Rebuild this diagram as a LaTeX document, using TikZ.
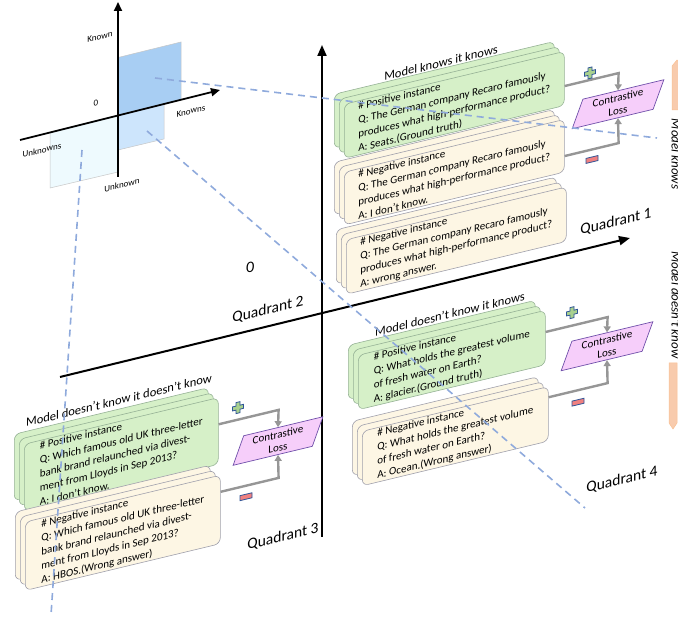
\documentclass[tikz,border=0pt]{standalone}
\usepackage{fontspec}
\setmainfont{Carlito}
\usepackage{tikz}
\usetikzlibrary{shapes.geometric, arrows.meta, shadows}
\definecolor{posfill}{RGB}{214,240,200}
\definecolor{posline}{RGB}{150,178,150}
\definecolor{negfill}{RGB}{253,246,228}
\definecolor{negline}{RGB}{160,160,172}
\definecolor{lossfill}{RGB}{246,206,250}
\definecolor{lossline}{RGB}{112,80,170}
\definecolor{arrowgray}{RGB}{150,150,150}
\definecolor{dashblue}{RGB}{143,170,220}
\definecolor{plusfill}{RGB}{169,209,142}
\definecolor{minusfill}{RGB}{240,128,128}
\definecolor{signline}{RGB}{47,85,151}
\definecolor{planedark}{RGB}{168,206,243}
\definecolor{planemid}{RGB}{205,229,252}
\definecolor{planelight}{RGB}{238,250,254}
\definecolor{peach}{RGB}{248,203,173}
\tikzstyle{posbox} = [rectangle, rounded corners=6pt, anchor=north west, align=left, inner xsep=2pt, inner ysep=1.5pt, draw=posline, fill=posfill, line width=0.6pt, font=\fontsize{11}{14}\selectfont, double copy shadow={shadow xshift=-5pt, shadow yshift=5pt}]
\tikzstyle{negbox} = [posbox, draw=negline, fill=negfill]
\tikzstyle{lossbox} = [trapezium, trapezium left angle=70, trapezium right angle=110, trapezium stretches=true, minimum width=92pt, minimum height=27pt, inner sep=0.5pt, align=center, draw=lossline, fill=lossfill, line width=0.7pt, font=\fontsize{11}{13}\selectfont]
\tikzstyle{lossarrow} = [line width=2.4pt, draw=arrowgray, -{Triangle[length=6pt, width=7pt]}]
\tikzstyle{mainaxis} = [line width=2pt, -{Triangle[length=11pt, width=9pt]}]
\tikzstyle{smallaxis} = [line width=1.8pt, -{Triangle[length=9pt, width=8pt]}]
\tikzstyle{mapline} = [draw=dashblue, line width=1.6pt, dash pattern=on 7pt off 5pt]
\tikzstyle{quadtitle} = [font=\fontsize{12.5}{14}\selectfont]
\tikzstyle{quadlabel} = [font=\fontsize{15.5}{17}\selectfont, yslant=0.24]
\tikzstyle{axislabel} = [font=\fontsize{9}{10}\selectfont, yslant=0.24]
\tikzstyle{sidelabel} = [font=\fontsize{13}{15}\selectfont\itshape, rotate=-90]
\tikzstyle{plane} = [draw=gray!45, line width=0.5pt]
\tikzstyle{minussign} = [rectangle, minimum width=12pt, minimum height=5pt, inner sep=0pt, fill=minusfill, draw=signline, line width=0.8pt]
\tikzstyle{plussign} = [fill=plusfill, draw=signline, line width=0.8pt]
\tikzstyle{peacharrow} = [fill=peach, draw=peach!85!orange, line width=0.5pt]
\begin{document}
\begin{tikzpicture}[x=1pt, y=-1pt]
  \useasboundingbox (0,0) rectangle (678,617);

  % small sketch of the two axes
  \filldraw[plane, fill=planelight] (50,132) -- (118,115) -- (118,172) -- (50,188) -- cycle;
  \filldraw[plane, fill=planemid] (118,115) -- (164,103.5) -- (164,139) -- (118,150) -- cycle;
  \filldraw[plane, fill=planedark] (118,57.5) -- (181,42) -- (181,99.5) -- (118,115) -- cycle;
  \draw[smallaxis] (118,177) -- (118,2);
  \draw[smallaxis] (20,140) -- (220,90);
  \node[axislabel] (known) at (100,37) {Known};
  \node[axislabel] (zero) at (96,103) {0};
  \node[axislabel] (knowns) at (191,111) {Knowns};
  \node[axislabel] (unknowns) at (42,150) {Unknowns};
  \node[axislabel] (unknown) at (122,185) {Unknown};
  \coordinate (kk) at (155,78);
  \coordinate (ku) at (147,131);
  \coordinate (uu) at (82,150);

  % main axes
  \draw[mainaxis] (322,537) -- (322,45);
  \draw[mainaxis] (60,377) -- (630,238);
  \node[font=\fontsize{16}{18}\selectfont\itshape] (origin) at (250,267) {0};
  \node[quadlabel] (qone) at (616,222) {Quadrant 1};
  \node[quadlabel] (qtwo) at (268,310) {Quadrant 2};
  \node[quadlabel] (qthree) at (283,537) {Quadrant 3};
  \node[quadlabel] (qfour) at (622,480) {Quadrant 4};

  % quadrant 1
  \begin{scope}[shift={(344,104)}, yslant=0.24, transform shape]
    \node[quadtitle] (tqa) at (97,-18) {Model knows it knows};
    \node[posbox, minimum width=220pt] (pqa) at (0,0) {\# Positive instance\\Q: The German company Recaro famously\\produces what high-performance product?\\A: Seats.(Ground truth)};
    \node[negbox, minimum width=220pt] (nqa) at (0,68) {\# Negative instance\\Q: The German company Recaro famously\\produces what high-performance product?\\A: I don't know.};
    \node[negbox, minimum width=220pt] (wqa) at (2,136) {\# Negative instance\\Q: The German company Recaro famously\\produces what high-performance product?\\A: wrong answer.};
    \node[lossbox] (lqa) at (274,66) {Contrastive\\Loss};
    \draw[lossarrow] (pqa.north east) ++(0,35) -- ++(54,0) -- (lqa.north);
    \draw[lossarrow] (nqa.north east) ++(0,37) -- ++(54,0) -- (lqa.south);
    \filldraw[plussign] (246,28) ++(-2,-5.5) -- ++(4,0) -- ++(0,3.5) -- ++(3.5,0) -- ++(0,4) -- ++(-3.5,0) -- ++(0,3.5) -- ++(-4,0) -- ++(0,-3.5) -- ++(-3.5,0) -- ++(0,-4) -- ++(3.5,0) -- cycle;
    \node[minussign] (mqa) at (248,115) {};
  \end{scope}

  % quadrant 4
  \begin{scope}[shift={(358,355)}, yslant=0.24, transform shape]
    \node[quadtitle] (tqd) at (92,-19) {Model doesn't know it knows};
    \node[posbox, minimum width=187pt] (pqd) at (0,0) {\# Positive instance\\Q: What holds the greatest volume\\of fresh water on Earth?\\A: glacier.(Ground truth)};
    \node[negbox, minimum width=186pt] (nqd) at (4,77) {\# Negative instance\\Q: What holds the greatest volume\\of fresh water on Earth?\\A: Ocean.(Wrong answer)};
    \node[lossbox] (lqd) at (249,51) {Contrastive\\Loss};
    \draw[lossarrow] (pqd.north east) ++(0,22) -- ++(62,0) -- (lqd.north);
    \draw[lossarrow] (nqd.north east) ++(0,11) -- ++(59,0) -- (lqd.south);
    \filldraw[plussign] (214,9) ++(-2,-5.5) -- ++(4,0) -- ++(0,3.5) -- ++(3.5,0) -- ++(0,4) -- ++(-3.5,0) -- ++(0,3.5) -- ++(-4,0) -- ++(0,-3.5) -- ++(-3.5,0) -- ++(0,-4) -- ++(3.5,0) -- cycle;
    \node[minussign] (mqd) at (220,100) {};
  \end{scope}

  % quadrant 3
  \begin{scope}[shift={(24,444)}, yslant=0.24, transform shape]
    \node[quadtitle] (tqc) at (95,-21) {Model doesn't know it doesn't know};
    \node[posbox, minimum width=194pt] (pqc) at (0,0) {\# Positive instance\\Q: Which famous old UK three-letter\\bank brand relaunched via divest-\\ment from Lloyds in Sep 2013?\\A: I don't know.};
    \node[negbox, minimum width=195pt] (nqc) at (1,78) {\# Negative instance\\Q: Which famous old UK three-letter\\bank brand relaunched via divest-\\ment from Lloyds in Sep 2013?\\A: HBOS.(Wrong answer)};
    \node[lossbox, minimum width=90pt] (lqc) at (254,58) {Contrastive\\Loss};
    \draw[lossarrow] (pqc.north east) ++(0,27) -- ++(60,0) -- (lqc.north);
    \draw[lossarrow] (nqc.north east) ++(0,17) -- ++(58,0) -- (lqc.south);
    \filldraw[plussign] (214,15) ++(-2,-5.5) -- ++(4,0) -- ++(0,3.5) -- ++(3.5,0) -- ++(0,4) -- ++(-3.5,0) -- ++(0,3.5) -- ++(-4,0) -- ++(0,-3.5) -- ++(-3.5,0) -- ++(0,-4) -- ++(3.5,0) -- cycle;
    \node[minussign] (mqc) at (222,106) {};
  \end{scope}

  % mapping lines from the sketch
  \draw[mapline] (kk) -- (657,138);
  \draw[mapline] (ku) -- (585,508);
  \draw[mapline] (uu) -- (51,615);

  % side labels, cut by the right edge
  \filldraw[peacharrow] (672,110) -- (672,66) -- (677,60) -- (682,66) -- (682,110) -- cycle;
  \filldraw[peacharrow] (669,363) -- (677,363) -- (677,423) -- (673,429) -- (669,423) -- cycle;
  \node[sidelabel] (mk) at (676,154) {Model knows};
  \node[sidelabel] (mdk) at (676,305) {Model doesn't know};
\end{tikzpicture}
\end{document}
